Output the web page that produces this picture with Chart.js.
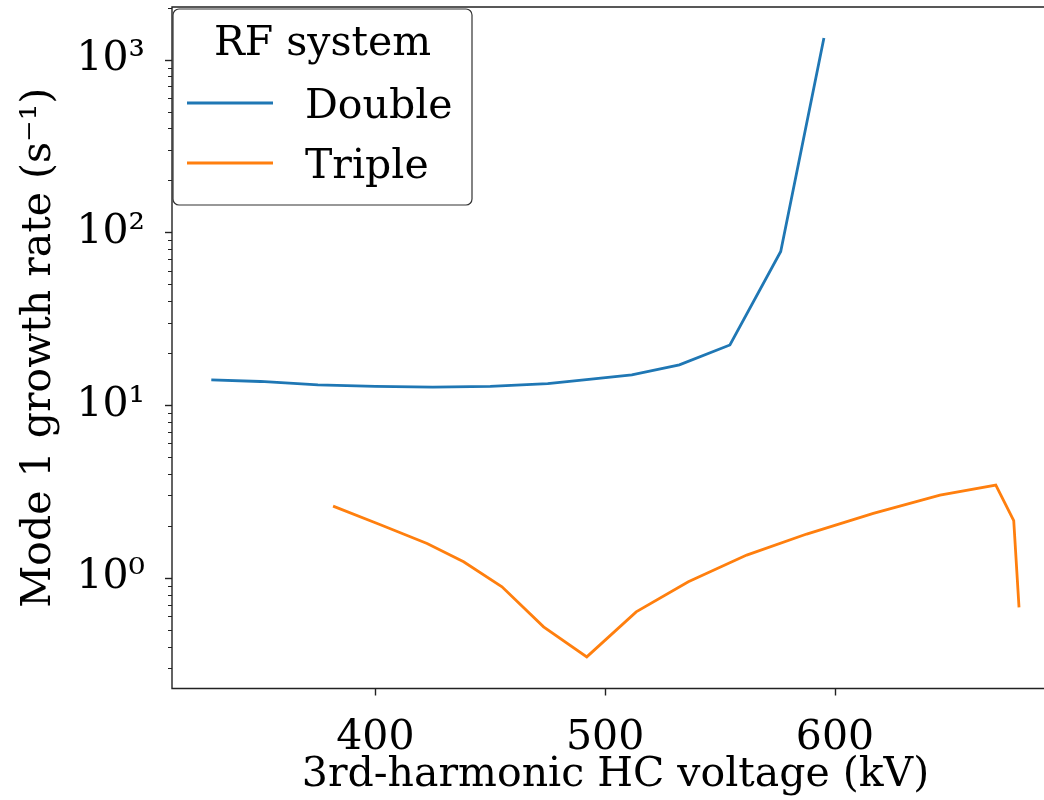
<!DOCTYPE html>
<html>
<head>
<meta charset="utf-8">
<script src="https://cdn.jsdelivr.net/npm/chart.js@4.4.0/dist/chart.umd.min.js"></script>
<style>
  html, body { margin: 0; padding: 0; background: #fff; overflow: hidden; }
  #wrap { width: 1060px; height: 800px; }
</style>
</head>
<body>
<div id="wrap"><canvas id="chart"></canvas></div>
<script>
// values
const voltDouble = [328.6, 350, 375, 400, 425, 450, 475, 495, 511.6, 532.3, 554.3, 576.4, 595.2];
const rateDouble = [14.0, 13.7, 13.1, 12.85, 12.7, 12.85, 13.3, 14.2, 14.95, 17.1, 22.3, 77.5, 1336];
const voltTriple = [381.6, 402.2, 422.5, 438.4, 455.1, 473.2, 492.0, 513.5, 536.2, 561.6, 587.7, 616.7, 645.7, 670.0, 677.8, 680.1];
const rateTriple = [2.60, 2.03, 1.58, 1.238, 0.887, 0.520, 0.3485, 0.635, 0.948, 1.354, 1.792, 2.36, 3.01, 3.44, 2.14, 0.674];

const seriesNames = ["Double", "Triple"];
const seriesColors = ["#1f77b4", "#ff7f0e"];
const legendTitle = "RF system";

const xTicks = [400, 500, 600];
const yMajorTicks = [1, 10, 100, 1000];
const yTickLabels = ["10⁰", "10¹", "10²", "10³"];

const xMin = 311.5, xMax = 697.5;
const yMin = 0.2286, yMax = 2018;

const FONT = "'DejaVu Serif', serif";
const FS = 41;

function toPoints(xs, ys) {
  return xs.map((x, i) => ({ x: x, y: ys[i] }));
}

// axes frame, tick marks and the boxed legend
const frame = {
  id: "frame",
  afterDraw(chart) {
    const { ctx, chartArea: a, scales: { x, y } } = chart;
    ctx.save();
    ctx.strokeStyle = "#222";
    ctx.lineWidth = 1.4;
    ctx.beginPath();
    ctx.moveTo(a.right, a.top);
    ctx.lineTo(a.left, a.top);
    ctx.lineTo(a.left, a.bottom);
    ctx.lineTo(a.right, a.bottom);
    ctx.lineTo(a.right, a.top);
    ctx.stroke();

    y.ticks.forEach(t => {
      const p = Math.round(y.getPixelForValue(t.value)) + 0.5;
      const len = t.major ? 7 : 4;
      ctx.lineWidth = t.major ? 1.4 : 1;
      ctx.beginPath();
      ctx.moveTo(a.left, p);
      ctx.lineTo(a.left - len, p);
      ctx.stroke();
    });
    x.ticks.forEach(t => {
      const p = Math.round(x.getPixelForValue(t.value)) + 0.5;
      ctx.lineWidth = 1.4;
      ctx.beginPath();
      ctx.moveTo(p, a.bottom);
      ctx.lineTo(p, a.bottom + 7);
      ctx.stroke();
    });

    // legend
    const bx = a.left + 1, by = a.top + 2, bw = 299, bh = 196, r = 6;
    ctx.beginPath();
    ctx.roundRect(bx, by, bw, bh, r);
    ctx.fillStyle = "rgba(255,255,255,0.9)";
    ctx.fill();
    ctx.strokeStyle = "#333";
    ctx.lineWidth = 1.2;
    ctx.stroke();

    ctx.fillStyle = "#000";
    ctx.font = FS + "px " + FONT;
    ctx.textBaseline = "alphabetic";
    ctx.textAlign = "center";
    ctx.fillText(legendTitle, bx + bw / 2, by + 46);
    ctx.textAlign = "left";
    seriesNames.forEach((name, i) => {
      const ly = by + 94 + i * 60;
      ctx.strokeStyle = seriesColors[i];
      ctx.lineWidth = 2.8;
      ctx.beginPath();
      ctx.moveTo(bx + 14, ly);
      ctx.lineTo(bx + 100, ly);
      ctx.stroke();
      ctx.fillText(name, bx + 132, ly + 15);
    });
    ctx.restore();
  }
};

new Chart(document.getElementById("chart"), {
  type: "line",
  data: {
    datasets: [
      {
        label: seriesNames[0],
        data: toPoints(voltDouble, rateDouble),
        borderColor: seriesColors[0],
        borderWidth: 2.8,
        pointRadius: 0,
        tension: 0
      },
      {
        label: seriesNames[1],
        data: toPoints(voltTriple, rateTriple),
        borderColor: seriesColors[1],
        borderWidth: 2.8,
        pointRadius: 0,
        tension: 0
      }
    ]
  },
  options: {
    responsive: true,
    maintainAspectRatio: false,
    animation: false,
    layout: { padding: { top: 7, right: 1, left: 0, bottom: 0 } },
    plugins: { legend: { display: false }, tooltip: { enabled: false } },
    scales: {
      x: {
        type: "linear",
        min: xMin,
        max: xMax,
        afterBuildTicks: s => { s.ticks = xTicks.map(v => ({ value: v })); },
        afterFit: s => {
          s.height = 111.5;
          s.paddingLeft = 0;
          s.paddingRight = 0;
        },
        grid: { display: false },
        border: { display: false },
        ticks: {
          color: "#000",
          font: { family: FONT, size: FS },
          padding: 17,
          maxRotation: 0,
          autoSkip: false
        },
        title: {
          display: true,
          text: "3rd-harmonic HC voltage (kV)",
          color: "#000",
          font: { family: FONT, size: FS },
          padding: { top: 0, bottom: 0 }
        }
      },
      y: {
        type: "logarithmic",
        min: yMin,
        max: yMax,
        afterBuildTicks: s => {
          const ticks = [];
          for (let e = -1; e <= 3; e++) {
            for (let m = 1; m <= 9; m++) {
              const v = Number((m * Math.pow(10, e)).toPrecision(3));
              if (v >= yMin && v <= yMax) ticks.push({ value: v, major: m === 1 });
            }
          }
          s.ticks = ticks;
        },
        afterFit: s => {
          s.width = 172;
          s.paddingTop = 0;
          s.paddingBottom = 0;
        },
        grid: { display: false },
        border: { display: false },
        ticks: {
          color: "#000",
          font: { family: FONT, size: FS },
          padding: 19,
          autoSkip: false,
          callback: v => {
            const i = yMajorTicks.indexOf(v);
            return i >= 0 ? yTickLabels[i] : "";
          }
        },
        title: {
          display: true,
          text: "Mode 1 growth rate (s⁻¹)",
          color: "#000",
          font: { family: FONT, size: FS },
          padding: { top: 15, bottom: 0 }
        }
      }
    }
  },
  plugins: [frame]
});
</script>
</body>
</html>
